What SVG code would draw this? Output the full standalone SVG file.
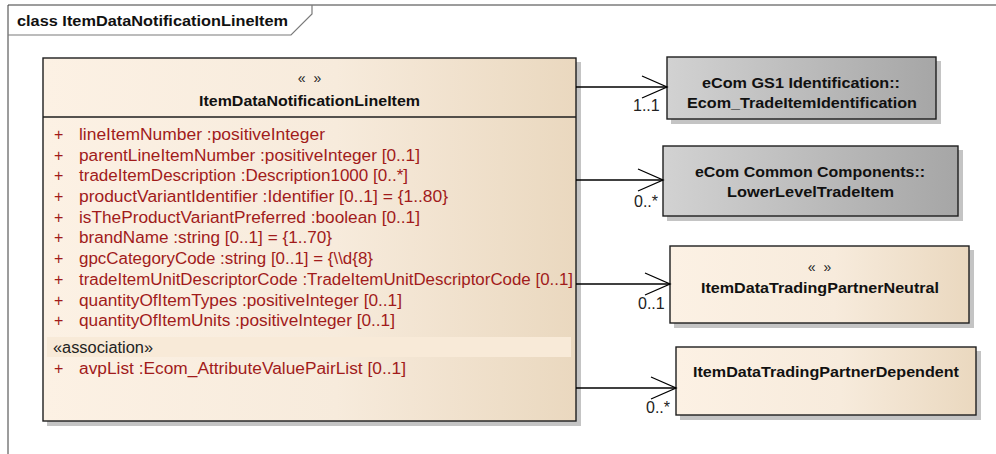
<svg xmlns="http://www.w3.org/2000/svg" width="996" height="454" viewBox="0 0 996 454">
<defs>
  <linearGradient id="gBeige" x1="0" y1="0" x2="1" y2="0">
    <stop offset="0" stop-color="#fcf1e4"/>
    <stop offset="0.55" stop-color="#f7ebdc"/>
    <stop offset="1" stop-color="#ead8bf"/>
  </linearGradient>
  <linearGradient id="gGray" x1="0" y1="0" x2="1" y2="0">
    <stop offset="0" stop-color="#d2d2d2"/>
    <stop offset="1" stop-color="#a6a6a6"/>
  </linearGradient>
  <marker id="open" markerWidth="28" markerHeight="24" refX="26" refY="12" orient="auto" markerUnits="userSpaceOnUse">
    <path d="M1,1 L26,12 L1,23" fill="none" stroke="#000" stroke-width="1.3"/>
  </marker>
</defs>
<style>
  .frame{fill:none;stroke:#3a3a3a;stroke-width:1}
  .shadow{fill:#c4c4c4}
  .box{stroke:#1e1e1e;stroke-width:1.4}
  .t{font-family:"Liberation Sans",Arial,sans-serif;white-space:pre}
  .b{font-weight:bold;font-size:15.5px;fill:#111}
  .st{font-size:14px;fill:#222}
  .attr{font-size:16px;fill:#a11b1b}
  .mult{font-size:16px;fill:#222}
  .conn{stroke:#000;stroke-width:1.3;fill:none}
</style>
<rect x="0" y="0" width="996" height="454" fill="#fff"/>
<g id="frame">
  <path class="frame" d="M8,454 L8,5 L996,5"/>
  <path d="M8,35 L291,35 L312,14 L312,5" fill="none" stroke="#7a7a7a" stroke-width="1.2"/>
  <text class="t b" x="17" y="26" textLength="271" lengthAdjust="spacingAndGlyphs">class ItemDataNotificationLineItem</text>
</g>
<g id="ItemDataNotificationLineItem">
  <rect class="shadow" x="47" y="62" width="534" height="364"/>
  <rect class="box" x="43" y="58" width="533" height="363" fill="url(#gBeige)"/>
  <line x1="43" y1="117" x2="576" y2="117" stroke="#1e1e1e" stroke-width="1.4"/>
  <text class="t st" x="309.5" y="83" text-anchor="middle">«  »</text>
  <text class="t b" x="199" y="106" textLength="221" lengthAdjust="spacingAndGlyphs">ItemDataNotificationLineItem</text>
  <g class="t attr">
    <text x="54" y="140">+</text><text x="79" y="140" textLength="246" lengthAdjust="spacingAndGlyphs">lineItemNumber  :positiveInteger</text>
    <text x="54" y="161">+</text><text x="79" y="161" textLength="341" lengthAdjust="spacingAndGlyphs">parentLineItemNumber  :positiveInteger [0..1]</text>
    <text x="54" y="181">+</text><text x="79" y="181" textLength="329" lengthAdjust="spacingAndGlyphs">tradeItemDescription  :Description1000 [0..*]</text>
    <text x="54" y="202">+</text><text x="79" y="202" textLength="369" lengthAdjust="spacingAndGlyphs">productVariantIdentifier  :Identifier [0..1] = {1..80}</text>
    <text x="54" y="223">+</text><text x="79" y="223" textLength="341" lengthAdjust="spacingAndGlyphs">isTheProductVariantPreferred  :boolean [0..1]</text>
    <text x="54" y="243">+</text><text x="79" y="243" textLength="253" lengthAdjust="spacingAndGlyphs">brandName  :string [0..1] = {1..70}</text>
    <text x="54" y="264">+</text><text x="79" y="264" textLength="294" lengthAdjust="spacingAndGlyphs">gpcCategoryCode  :string [0..1] = {\\d{8}</text>
    <text x="54" y="285">+</text><text x="79" y="285" textLength="494" lengthAdjust="spacingAndGlyphs">tradeItemUnitDescriptorCode  :TradeItemUnitDescriptorCode [0..1]</text>
    <text x="54" y="306">+</text><text x="79" y="306" textLength="323" lengthAdjust="spacingAndGlyphs">quantityOfItemTypes  :positiveInteger [0..1]</text>
    <text x="54" y="326">+</text><text x="79" y="326" textLength="316" lengthAdjust="spacingAndGlyphs">quantityOfItemUnits  :positiveInteger [0..1]</text>
  </g>
  <rect x="47" y="337" width="524" height="20" fill="#f8ead8"/>
  <text class="t" x="53" y="353" textLength="100" lengthAdjust="spacingAndGlyphs" style="font-size:16px;fill:#222">«association»</text>
  <g class="t attr">
    <text x="54" y="374">+</text><text x="79" y="374" textLength="327" lengthAdjust="spacingAndGlyphs">avpList  :Ecom_AttributeValuePairList [0..1]</text>
  </g>
</g>
<g id="Ecom_TradeItemIdentification">
  <rect class="shadow" x="671" y="61" width="270" height="63"/>
  <rect class="box" x="667" y="57" width="269" height="62" fill="url(#gGray)"/>
  <text class="t b" x="702" y="88" textLength="198" lengthAdjust="spacingAndGlyphs">eCom GS1 Identification::</text>
  <text class="t b" x="687" y="108" textLength="230" lengthAdjust="spacingAndGlyphs">Ecom_TradeItemIdentification</text>
</g>
<g id="LowerLevelTradeItem">
  <rect class="shadow" x="667" y="150" width="296" height="71"/>
  <rect class="box" x="663" y="146" width="295" height="70" fill="url(#gGray)"/>
  <text class="t b" x="695" y="177" textLength="230" lengthAdjust="spacingAndGlyphs">eCom Common Components::</text>
  <text class="t b" x="727" y="197" textLength="167" lengthAdjust="spacingAndGlyphs">LowerLevelTradeItem</text>
</g>
<g id="ItemDataTradingPartnerNeutral">
  <rect class="shadow" x="674" y="250" width="300" height="78"/>
  <rect class="box" x="670" y="246" width="299" height="77" fill="url(#gBeige)"/>
  <text class="t st" x="819.5" y="272" text-anchor="middle">«  »</text>
  <text class="t b" x="701" y="293" textLength="238" lengthAdjust="spacingAndGlyphs">ItemDataTradingPartnerNeutral</text>
</g>
<g id="ItemDataTradingPartnerDependent">
  <rect class="shadow" x="680" y="351" width="301" height="69"/>
  <rect class="box" x="676" y="347" width="300" height="68" fill="url(#gBeige)"/>
  <text class="t b" x="693" y="377" textLength="266" lengthAdjust="spacingAndGlyphs">ItemDataTradingPartnerDependent</text>
</g>
<g id="connectors">
  <line class="conn" x1="576" y1="87" x2="667" y2="87" marker-end="url(#open)"/>
  <line class="conn" x1="576" y1="180" x2="663" y2="180" marker-end="url(#open)"/>
  <line class="conn" x1="576" y1="284" x2="670" y2="284" marker-end="url(#open)"/>
  <line class="conn" x1="576" y1="388" x2="676" y2="388" marker-end="url(#open)"/>
  <text class="t mult" x="633" y="111">1..1</text>
  <text class="t mult" x="634" y="207">0..*</text>
  <text class="t mult" x="638" y="309">0..1</text>
  <text class="t mult" x="646" y="413">0..*</text>
</g>
</svg>
